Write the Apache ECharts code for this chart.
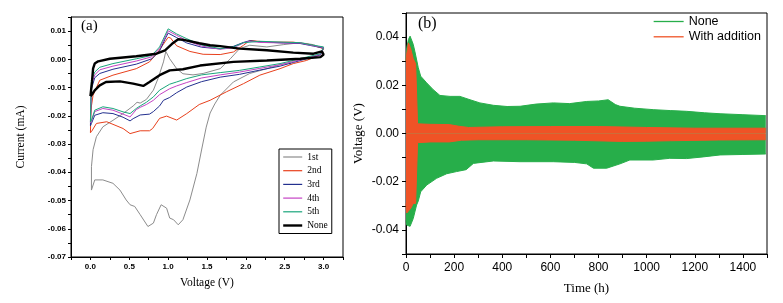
<!DOCTYPE html>
<html>
<head>
<meta charset="utf-8">
<script src="https://cdn.jsdelivr.net/npm/echarts@6/dist/echarts.min.js"></script>
<style>
  body { margin: 0; background: #fff; }
  #main { width: 783px; height: 303px; }
</style>
</head>
<body>
<div id="main"></div>
<script>
// (a) CV curves: [voltage (V), current (mA)], traced as closed loops
var cycle1 = [[2.58,-0.0008],[2.57,-0.002],[2.56,-0.0012],[2.44,-0.0019],[2.27,-0.0033],[2.05,-0.005],[1.84,-0.008],[1.67,-0.0127],[1.6,-0.0158],[1.54,-0.019],[1.49,-0.024],[1.43,-0.0321],[1.37,-0.0404],[1.28,-0.0498],[1.19,-0.0568],[1.13,-0.0586],[1.07,-0.0568],[1.02,-0.0562],[0.98,-0.0527],[0.91,-0.0515],[0.85,-0.055],[0.81,-0.058],[0.74,-0.0592],[0.64,-0.055],[0.57,-0.0521],[0.51,-0.0515],[0.46,-0.0498],[0.38,-0.0463],[0.29,-0.0439],[0.16,-0.0427],[0.056,-0.0427],[0.013,-0.0463],[0,-0.0468],[0.013,-0.038],[0.034,-0.032],[0.077,-0.0274],[0.16,-0.0239],[0.29,-0.0216],[0.42,-0.0192],[0.55,-0.0165],[0.6,-0.0152],[0.64,-0.0155],[0.72,-0.0142],[0.81,-0.0109],[0.87,-0.0068],[0.94,-0.0009],[0.97,0.0028],[1.02,0.0002],[1.11,-0.0033],[1.19,-0.0051],[1.32,-0.0055],[1.45,-0.005],[1.67,-0.0033],[1.8,0.0002],[1.92,0.0038],[2.05,0.005],[2.27,0.0044],[2.48,0.0052],[2.7,0.0059],[2.87,0.0052],[3.0,0.0038]];
var cycle2 = [[0,-0.026],[0.005,-0.02],[0.013,-0.0165],[0.034,-0.0127],[0.12,-0.0074],[0.29,-0.0056],[0.59,-0.0033],[0.76,-0.0009],[0.87,0.0026],[0.96,0.0062],[1.0,0.0078],[1.03,0.0076],[1.11,0.0048],[1.28,0.0028],[1.45,0.0018],[1.67,0.0017],[1.84,0.0026],[1.97,0.005],[2.05,0.0067],[2.27,0.0061],[2.61,0.0061],[2.83,0.0052],[3.0,0.0038],[2.96,0.0017],[2.78,-0.0004],[2.61,-0.0015],[2.44,-0.0033],[2.18,-0.0056],[1.97,-0.0086],[1.75,-0.0115],[1.54,-0.0145],[1.4,-0.016],[1.24,-0.0192],[1.11,-0.0215],[0.98,-0.0201],[0.89,-0.0209],[0.8,-0.0245],[0.76,-0.0253],[0.64,-0.0253],[0.51,-0.0263],[0.42,-0.0245],[0.21,-0.0221],[0.077,-0.0227],[0.013,-0.0256],[0,-0.026]];
var cycle3 = [[0,-0.0235],[0.005,-0.017],[0.013,-0.0105],[0.056,-0.0065],[0.12,-0.005],[0.29,-0.0035],[0.59,-0.0017],[0.79,0.0002],[0.89,0.003],[0.96,0.0072],[1.0,0.0093],[1.02,0.0096],[1.11,0.0077],[1.24,0.0058],[1.43,0.0043],[1.67,0.0037],[1.84,0.0046],[1.97,0.006],[2.05,0.0066],[2.18,0.0062],[2.48,0.0058],[2.7,0.0056],[2.87,0.0047],[3.0,0.004],[2.96,0.0016],[2.78,0.0002],[2.61,-0.0011],[2.44,-0.0024],[2.18,-0.0038],[1.92,-0.0053],[1.67,-0.0063],[1.43,-0.0079],[1.24,-0.0098],[1.11,-0.0118],[1.02,-0.0135],[0.94,-0.0145],[0.89,-0.0165],[0.81,-0.0185],[0.76,-0.0194],[0.64,-0.0197],[0.55,-0.021],[0.51,-0.0218],[0.42,-0.0205],[0.29,-0.0192],[0.16,-0.0189],[0.056,-0.0198],[0.013,-0.0227],[0,-0.0235]];
var cycle4 = [[0,-0.0225],[0.005,-0.016],[0.013,-0.009],[0.056,-0.0055],[0.12,-0.0037],[0.29,-0.0024],[0.59,-0.0006],[0.79,0.0009],[0.89,0.0038],[0.96,0.0078],[1.0,0.0101],[1.02,0.0105],[1.11,0.0085],[1.24,0.0066],[1.43,0.0047],[1.67,0.0036],[1.84,0.0041],[1.97,0.0058],[2.05,0.0064],[2.18,0.006],[2.48,0.0058],[2.7,0.0058],[2.87,0.0048],[3.0,0.0042],[2.96,0.0018],[2.78,0.0004],[2.61,-0.0008],[2.44,-0.0019],[2.18,-0.0032],[1.92,-0.0045],[1.67,-0.0055],[1.43,-0.0066],[1.24,-0.0082],[1.11,-0.0094],[1.02,-0.0104],[0.89,-0.0125],[0.81,-0.0145],[0.72,-0.016],[0.64,-0.017],[0.59,-0.0178],[0.51,-0.0204],[0.42,-0.0194],[0.29,-0.018],[0.16,-0.0174],[0.056,-0.0185],[0.013,-0.022],[0,-0.0225]];
var cycle5 = [[0,-0.0222],[0.005,-0.015],[0.013,-0.0074],[0.056,-0.0045],[0.12,-0.0028],[0.29,-0.0015],[0.59,0.0002],[0.79,0.0014],[0.89,0.0044],[0.96,0.0085],[1.0,0.0108],[1.02,0.0112],[1.11,0.009],[1.24,0.0073],[1.43,0.0051],[1.67,0.0038],[1.84,0.0044],[1.97,0.0059],[2.18,0.0064],[2.48,0.0061],[2.7,0.0059],[2.87,0.005],[3.0,0.0044],[2.96,0.002],[2.78,0.0008],[2.61,-0.0004],[2.44,-0.0015],[2.18,-0.0027],[1.92,-0.0039],[1.67,-0.0047],[1.43,-0.0055],[1.24,-0.0068],[1.11,-0.008],[1.02,-0.0088],[0.89,-0.0109],[0.81,-0.0133],[0.72,-0.0152],[0.64,-0.0165],[0.59,-0.0174],[0.51,-0.0192],[0.42,-0.0186],[0.29,-0.0174],[0.16,-0.0168],[0.056,-0.018],[0.013,-0.0216],[0,-0.0222]];
var cycleNone = [[0,-0.013],[0.013,-0.0127],[0.02,-0.008],[0.034,-0.0033],[0.055,-0.0015],[0.1,-0.0007],[0.25,0.0002],[0.59,0.0011],[0.85,0.002],[0.96,0.0032],[1.05,0.0055],[1.13,0.0071],[1.2,0.0069],[1.4,0.0057],[1.54,0.005],[1.67,0.0047],[1.92,0.0038],[2.27,0.0032],[2.61,0.0024],[2.87,0.002],[2.98,0.0028],[3.0,0.0017],[2.96,0.0008],[2.7,0.0002],[2.27,-0.0004],[1.84,-0.0009],[1.41,-0.0022],[1.19,-0.0035],[1.02,-0.0039],[0.89,-0.0056],[0.76,-0.008],[0.68,-0.0094],[0.55,-0.0086],[0.38,-0.0078],[0.2,-0.008],[0.12,-0.0092],[0.055,-0.011],[0.013,-0.0127],[0,-0.013]];

var cvNames = ['1st', '2nd', '3rd', '4th', '5th', 'None'];
var cvColors = ['#8c8c8c', '#e8401c', '#23308f', '#c443c4', '#1aa67c', '#000000'];

// (b) voltage envelopes: [time (h), voltage (V)]
var noneUpper = [[0,0.03],[3,0.0356],[10,0.039],[17,0.0404],[30,0.037],[37,0.034],[51,0.0273],[61,0.0238],[86,0.021],[113,0.0182],[141,0.0158],[183,0.0154],[224,0.0154],[266,0.014],[307,0.0127],[363,0.0117],[420,0.0112],[474,0.0113],[540,0.0122],[612,0.0127],[680,0.0124],[751,0.0133],[800,0.0135],[840,0.014],[870,0.012],[889,0.0113],[950,0.0105],[1027,0.0099],[1100,0.0095],[1166,0.0092],[1240,0.0086],[1305,0.0082],[1400,0.0078],[1495,0.0074]];
var noneLower = [[0,-0.036],[3,-0.038],[17,-0.0385],[30,-0.0353],[44,-0.0297],[51,-0.028],[61,-0.0242],[86,-0.0214],[127,-0.0186],[169,-0.0167],[210,-0.0158],[250,-0.015],[280,-0.0124],[363,-0.0114],[474,-0.0117],[612,-0.0117],[700,-0.012],[751,-0.0126],[779,-0.0144],[834,-0.0144],[889,-0.0126],[930,-0.011],[1027,-0.011],[1096,-0.0103],[1166,-0.0104],[1235,-0.0097],[1305,-0.0089],[1400,-0.0087],[1495,-0.0085]];
var addUpper = [[0,0.03],[3,0.033],[10,0.0376],[20,0.035],[30,0.031],[40,0.029],[46,0.029],[48,0.004],[100,0.0038],[180,0.0037],[220,0.003],[260,0.0025],[400,0.0028],[600,0.0029],[800,0.0029],[1000,0.0025],[1200,0.0022],[1400,0.0022],[1495,0.0022]];
var addLower = [[0,-0.029],[3,-0.033],[10,-0.0335],[20,-0.031],[30,-0.029],[40,-0.029],[46,-0.029],[48,-0.0038],[100,-0.0035],[180,-0.0035],[230,-0.0028],[300,-0.0026],[500,-0.0026],[700,-0.0028],[900,-0.0033],[1000,-0.0032],[1100,-0.003],[1300,-0.0027],[1495,-0.0026]];

var greenB = '#27ae4a';
var orangeB = '#ef5326';

var chart = echarts.init(document.getElementById('main'));

var cvData = [cycle1, cycle2, cycle3, cycle4, cycle5, cycleNone];
var series = cvData.map(function (d, i) {
    return {
        name: cvNames[i],
        type: 'line',
        xAxisIndex: 0,
        yAxisIndex: 0,
        data: d,
        symbol: 'none',
        color: cvColors[i],
        lineStyle: { width: i === 5 ? 2.4 : 1, color: cvColors[i] },
        z: i === 5 ? 5 : 3
    };
});

function band(name, data, color, z) {
    return {
        name: name,
        type: 'line',
        xAxisIndex: 1,
        yAxisIndex: 1,
        data: data,
        symbol: 'none',
        color: color,
        lineStyle: { width: 1, color: color },
        areaStyle: { color: color, opacity: 1 },
        z: z
    };
}
series.push(band('None (b)', noneUpper, greenB, 2));
series.push(band('None (b)', noneLower, greenB, 2));
series.push(band('With addition', addUpper, orangeB, 3));
series.push(band('With addition', addLower, orangeB, 3));

var serif = 'Liberation Serif';
var sans = 'Liberation Sans';

// legend line icons only (hide the symbol dot)
var cvLegendData = cvNames.map(function (n, i) {
    return { name: n, itemStyle: { opacity: 0 }, lineStyle: { color: cvColors[i], width: i === 5 ? 2.4 : 1.2 } };
});

var option = {
    animation: false,
    backgroundColor: '#fff',
    title: [
        { text: '(a)', left: 81, top: 19, padding: 0, textStyle: { fontFamily: serif, fontSize: 15, fontWeight: 'normal', color: '#000' } },
        { text: '(b)', left: 418, top: 16, padding: 0, textStyle: { fontFamily: serif, fontSize: 16, fontWeight: 'normal', color: '#000' } }
    ],
    legend: [
        {
            data: cvLegendData,
            orient: 'vertical',
            left: 279,
            top: 149,
            padding: [3, 4, 3, 3],
            itemWidth: 19,
            itemHeight: 8,
            itemGap: 3.7,
            borderColor: '#000',
            borderWidth: 1,
            itemStyle: { opacity: 0 },
            textStyle: { fontFamily: serif, fontSize: 9.5, color: '#000' }
        },
        {
            data: [
                { name: 'None (b)', itemStyle: { opacity: 0 }, lineStyle: { width: 1.3, color: greenB } },
                { name: 'With addition', itemStyle: { opacity: 0 }, lineStyle: { width: 1.3, color: orangeB } }
            ],
            orient: 'vertical',
            left: 653,
            top: 15,
            padding: 0,
            itemWidth: 30,
            itemHeight: 14,
            itemGap: 2.3,
            itemStyle: { opacity: 0 },
            formatter: function (n) { return n === 'None (b)' ? 'None' : n; },
            textStyle: { fontFamily: sans, fontSize: 12.5, color: '#000' }
        }
    ],
    grid: [
        { left: 71, top: 17, width: 272, height: 240, show: true, borderColor: '#000', borderWidth: 1 },
        { left: 406, top: 13, width: 361, height: 241, show: true, borderColor: '#000', borderWidth: 1 }
    ],
    xAxis: [
        {
            gridIndex: 0, type: 'value', min: -0.25, max: 3.25, interval: 0.25,
            axisLine: { onZero: false, lineStyle: { color: '#000' } },
            axisTick: { length: 3, lineStyle: { color: '#000' } },
            axisLabel: {
                interval: 0, margin: 6, fontSize: 8, fontWeight: 'bold', fontFamily: sans, color: '#000',
                formatter: function (v) {
                    var k = Math.round(v * 100);
                    return (k % 50 === 0 && k >= 0 && k <= 300) ? (k / 100).toFixed(1) : '';
                }
            },
            splitLine: { show: false },
            name: 'Voltage (V)', nameLocation: 'middle', nameGap: 20,
            nameTextStyle: { fontFamily: serif, fontSize: 11.5, color: '#000' }
        },
        {
            gridIndex: 1, type: 'value', min: 0, max: 1500, interval: 100,
            axisLine: { onZero: false, lineStyle: { color: '#000' } },
            axisTick: { length: 4, lineStyle: { color: '#000' } },
            axisLabel: {
                interval: 0, margin: 8, fontSize: 12, fontFamily: sans, color: '#000',
                formatter: function (v) {
                    return (v % 200 === 0 && v <= 1400) ? String(v) : '';
                }
            },
            splitLine: { show: false },
            name: 'Time (h)', nameLocation: 'middle', nameGap: 28,
            nameTextStyle: { fontFamily: serif, fontSize: 13, color: '#000' }
        }
    ],
    yAxis: [
        {
            gridIndex: 0, type: 'value', min: -0.07, max: 0.015, interval: 0.005,
            axisLine: { show: true, onZero: false, lineStyle: { color: '#000' } },
            axisTick: { show: true, length: 3, lineStyle: { color: '#000' } },
            axisLabel: {
                interval: 0, margin: 5, fontSize: 8, fontWeight: 'bold', fontFamily: sans, color: '#000',
                formatter: function (v) {
                    var k = Math.round(v * 1000);
                    if (k % 10 !== 0 || k > 10) return '';
                    return k === 0 ? '0.00' : (k / 1000).toFixed(2);
                }
            },
            splitLine: { show: false },
            name: 'Current (mA)', nameLocation: 'middle', nameGap: 44,
            nameTextStyle: { fontFamily: serif, fontSize: 11.5, color: '#000' }
        },
        {
            gridIndex: 1, type: 'value', min: -0.05, max: 0.05, interval: 0.01,
            axisLine: { show: true, onZero: false, lineStyle: { color: '#000' } },
            axisTick: { show: true, length: 4, lineStyle: { color: '#000' } },
            axisLabel: {
                interval: 0, margin: 7, fontSize: 12, fontFamily: sans, color: '#000',
                formatter: function (v) {
                    var k = Math.round(v * 100);
                    if (k % 2 !== 0 || Math.abs(k) > 4) return '';
                    return k === 0 ? '0.00' : (k / 100).toFixed(2);
                }
            },
            splitLine: { show: false },
            name: 'Voltage (V)', nameLocation: 'middle', nameGap: 41,
            nameTextStyle: { fontFamily: serif, fontSize: 13, color: '#000' }
        }
    ],
    series: series
};

if (option && typeof option === 'object') {
    chart.setOption(option);
}
</script>
</body>
</html>
